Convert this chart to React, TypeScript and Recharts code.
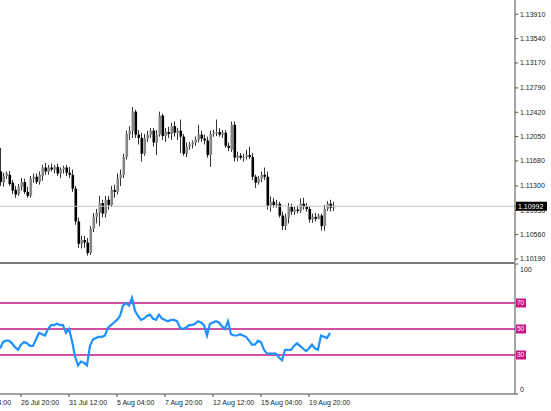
import React from 'react';
import { ComposedChart, LineChart, Line, Bar, XAxis, YAxis, ReferenceLine } from 'recharts';

const FIRST_INDEX = -7;

const opens = [
  1.1152, 1.1135, 1.1145, 1.1147, 1.1135, 1.1124, 1.1118,
  1.1129, 1.1136, 1.1121, 1.1115, 1.1141, 1.1144, 1.1136, 1.1145, 1.1158, 1.1152,
  1.1158, 1.1155, 1.1159, 1.1149, 1.1155, 1.1158, 1.1150, 1.1147, 1.1126, 1.1076,
  1.1042, 1.1048, 1.1044, 1.1028, 1.1065, 1.1083, 1.1089, 1.1104, 1.1088, 1.1109,
  1.1101, 1.1124, 1.1121, 1.1142, 1.1147, 1.1174, 1.1209, 1.1214, 1.1243, 1.1208,
  1.1203, 1.1179, 1.1202, 1.1208, 1.1214, 1.1196, 1.1208, 1.1237, 1.1206, 1.1212,
  1.1209, 1.1221, 1.1211, 1.1214, 1.1205, 1.1179, 1.1190, 1.1193, 1.1196, 1.1200,
  1.1208, 1.1202, 1.1199, 1.1177, 1.1209, 1.1211, 1.1212, 1.1208, 1.1211, 1.1191,
  1.1185, 1.1223, 1.1173, 1.1176, 1.1173, 1.1174, 1.1177, 1.1174, 1.1144, 1.1135,
  1.1141, 1.1147, 1.1144, 1.1100, 1.1106, 1.1101, 1.1103, 1.1085, 1.1069, 1.1082,
  1.1098, 1.1091, 1.1094, 1.1092, 1.1103, 1.1098, 1.1095, 1.1079, 1.1083, 1.1080,
  1.1085, 1.1069, 1.1095, 1.1103, 1.1097,
];
const highs = [
  1.1188, 1.1150, 1.1152, 1.1153, 1.1139, 1.1130, 1.1133,
  1.1142, 1.1141, 1.1129, 1.1145, 1.1149, 1.1149, 1.1152, 1.1162, 1.1165, 1.1162,
  1.1164, 1.1162, 1.1164, 1.1158, 1.1161, 1.1162, 1.1159, 1.1155, 1.1130, 1.1082,
  1.1054, 1.1054, 1.1051, 1.1069, 1.1089, 1.1095, 1.1115, 1.1109, 1.1115, 1.1115,
  1.1130, 1.1132, 1.1149, 1.1155, 1.1179, 1.1214, 1.1221, 1.1250, 1.1246, 1.1215,
  1.1211, 1.1209, 1.1214, 1.1218, 1.1218, 1.1215, 1.1243, 1.1240, 1.1218, 1.1220,
  1.1226, 1.1228, 1.1218, 1.1231, 1.1209, 1.1196, 1.1197, 1.1199, 1.1205, 1.1223,
  1.1214, 1.1208, 1.1205, 1.1214, 1.1215, 1.1231, 1.1218, 1.1215, 1.1215, 1.1196,
  1.1228, 1.1228, 1.1182, 1.1180, 1.1179, 1.1185, 1.1190, 1.1180, 1.1147, 1.1145,
  1.1152, 1.1158, 1.1152, 1.1114, 1.1112, 1.1109, 1.1106, 1.1091, 1.1088, 1.1104,
  1.1103, 1.1098, 1.1100, 1.1111, 1.1112, 1.1104, 1.1100, 1.1088, 1.1089, 1.1088,
  1.1088, 1.1101, 1.1107, 1.1109, 1.1106,
];
const lows = [
  1.1130, 1.1129, 1.1141, 1.1130, 1.1118, 1.1112, 1.1115,
  1.1123, 1.1118, 1.1112, 1.1112, 1.1135, 1.1133, 1.1132, 1.1138, 1.1147, 1.1147,
  1.1152, 1.1149, 1.1145, 1.1142, 1.1149, 1.1145, 1.1142, 1.1121, 1.1071, 1.1036,
  1.1035, 1.1036, 1.1024, 1.1025, 1.1060, 1.1073, 1.1069, 1.1082, 1.1082, 1.1094,
  1.1098, 1.1112, 1.1117, 1.1130, 1.1142, 1.1170, 1.1200, 1.1203, 1.1203, 1.1193,
  1.1167, 1.1176, 1.1197, 1.1203, 1.1190, 1.1177, 1.1205, 1.1200, 1.1197, 1.1203,
  1.1200, 1.1205, 1.1200, 1.1180, 1.1176, 1.1174, 1.1185, 1.1187, 1.1191, 1.1196,
  1.1197, 1.1193, 1.1173, 1.1159, 1.1205, 1.1206, 1.1205, 1.1203, 1.1188, 1.1183,
  1.1182, 1.1167, 1.1168, 1.1170, 1.1167, 1.1170, 1.1171, 1.1139, 1.1127, 1.1132,
  1.1136, 1.1139, 1.1094, 1.1091, 1.1097, 1.1097, 1.1082, 1.1063, 1.1063, 1.1073,
  1.1086, 1.1086, 1.1088, 1.1089, 1.1094, 1.1091, 1.1074, 1.1074, 1.1076, 1.1079,
  1.1062, 1.1062, 1.1092, 1.1091, 1.1092,
];
const closes = [
  1.1136, 1.1145, 1.1149, 1.1133, 1.1123, 1.1117, 1.1129,
  1.1136, 1.1121, 1.1115, 1.1141, 1.1144, 1.1136, 1.1147, 1.1158, 1.1152, 1.1158,
  1.1155, 1.1159, 1.1149, 1.1155, 1.1158, 1.1150, 1.1147, 1.1126, 1.1076, 1.1042,
  1.1048, 1.1044, 1.1028, 1.1065, 1.1083, 1.1089, 1.1104, 1.1088, 1.1109, 1.1101,
  1.1124, 1.1121, 1.1142, 1.1147, 1.1174, 1.1209, 1.1214, 1.1243, 1.1208, 1.1203,
  1.1179, 1.1202, 1.1208, 1.1214, 1.1196, 1.1208, 1.1237, 1.1206, 1.1212, 1.1209,
  1.1221, 1.1211, 1.1214, 1.1205, 1.1179, 1.1190, 1.1193, 1.1196, 1.1200, 1.1208,
  1.1202, 1.1199, 1.1177, 1.1209, 1.1211, 1.1212, 1.1208, 1.1211, 1.1191, 1.1188,
  1.1223, 1.1173, 1.1176, 1.1173, 1.1174, 1.1177, 1.1174, 1.1144, 1.1135, 1.1141,
  1.1147, 1.1144, 1.1100, 1.1106, 1.1101, 1.1103, 1.1085, 1.1069, 1.1082, 1.1098,
  1.1091, 1.1094, 1.1092, 1.1103, 1.1098, 1.1095, 1.1079, 1.1083, 1.1080, 1.1085,
  1.1069, 1.1095, 1.1103, 1.1097, 1.1099,
];
const rsiValues = [
  35, 40, 41, 41, 39, 36, 34,
  38, 40, 39, 37, 37, 42, 47, 46, 45, 50, 53, 53, 54, 53, 53, 47, 50,
  41, 29, 22, 25, 24, 22, 37, 42, 43, 44, 44, 45, 51, 53, 55, 57,
  60, 68, 70, 68, 74, 64, 60, 57, 58, 60, 61, 58, 57, 61, 58, 57,
  56, 57, 57, 56, 51, 50, 51, 53, 53, 54, 56, 55, 53, 45, 54, 55,
  56, 55, 52, 50, 56, 46, 45, 45, 46, 45, 44, 41, 38, 38, 41, 40,
  34, 31, 31, 31, 31, 28, 26, 34, 34, 34, 37, 39, 37, 35, 33, 35,
  38, 35, 34, 45, 44, 43, 47,
];

const priceTicks = [1.1019, 1.1056, 1.1093, 1.113, 1.1168, 1.1205, 1.1242, 1.1279, 1.1317, 1.1354, 1.1391];
const priceTickLabels = ['1.10190', '1.10560', '1.10930', '1.11300', '1.11680', '1.12050', '1.12420', '1.12790', '1.13170', '1.13540', '1.13910'];
const bidPrice = 1.10992;
const bidLabel = '1.10992';
const priceDomain = [1.10144, 1.14127];

const timeTickIndex = [-16, 0, 16, 32, 48, 64, 80, 96];
const timeTickLabels = ['24 Jul 04:00', '26 Jul 20:00', '31 Jul 12:00', '5 Aug 04:00', '7 Aug 20:00', '12 Aug 12:00', '15 Aug 04:00', '19 Aug 20:00'];
const xDomain = [-7, 164.67];

const rsiLevels = [30, 50, 70];
const rsiAxisTicks = [0, 100];

const data = opens.map((o, k) => ({
  i: k + FIRST_INDEX,
  open: o,
  high: highs[k],
  low: lows[k],
  close: closes[k],
  range: [lows[k], highs[k]],
  rsi: rsiValues[k],
}));

const FONT = '"Liberation Sans", Arial, sans-serif';
const AXIS = '#4a4a4a';
const LEVEL = '#C71585';

const Candle = (props: any) => {
  const { x, y, width, height, payload } = props;
  if (x == null || y == null || !payload) return null;
  const top = Math.min(y, y + height);
  const bottom = Math.max(y, y + height);
  const { open, close, high, low } = payload;
  const span = high - low || 1e-9;
  const yOf = (p: number) => top + ((high - p) / span) * (bottom - top);
  const cx = Math.round(x + width / 2);
  const bull = close >= open;
  const bTop = yOf(Math.max(open, close));
  const bBot = yOf(Math.min(open, close));
  return (
    <g>
      <line x1={cx + 0.5} x2={cx + 0.5} y1={top} y2={bottom} stroke="#333" strokeWidth={1} />
      <rect x={cx - 0.5} y={bTop} width={2.6} height={Math.max(1, bBot - bTop)} fill={bull ? '#858585' : '#000'} />
    </g>
  );
};

const PriceTick = (props: any) => {
  const { x, y, payload } = props;
  const v = payload.value;
  if (v === bidPrice) {
    return (
      <g>
        <rect x={x - 4} y={y - 4.5} width={31} height={9} fill="#000" />
        <text x={x - 2} y={y} dy="0.35em" fontSize={7} fontFamily={FONT} fill="#fff">{bidLabel}</text>
      </g>
    );
  }
  const idx = priceTicks.indexOf(v);
  return (
    <text x={x} y={y} dy="0.35em" fontSize={7} fontFamily={FONT} fill="#222">{priceTickLabels[idx]}</text>
  );
};

const TimeTick = (props: any) => {
  const { x, y, payload } = props;
  const idx = timeTickIndex.indexOf(payload.value);
  return (
    <text x={x} y={y} dy={7} fontSize={7} fontFamily={FONT} fill="#222">{timeTickLabels[idx]}</text>
  );
};

const RsiTick = (props: any) => {
  const { x, y, payload } = props;
  return (
    <text x={x} y={y} dy={payload.value === 100 ? 7.5 : -2.5} fontSize={7} fontFamily={FONT} fill="#222">{String(payload.value)}</text>
  );
};

const LevelLabel = (props: any) => {
  const { viewBox, value } = props;
  if (!viewBox) return null;
  const x0 = viewBox.x + viewBox.width + 1;
  const yc = viewBox.y;
  return (
    <g>
      <rect x={x0} y={yc - 4.5} width={10} height={9} fill={LEVEL} />
      <text x={x0 + 1} y={yc} dy="0.35em" fontSize={6.5} fontFamily={FONT} fill="#fff">{String(value)}</text>
    </g>
  );
};

export default function App() {
  return (
    <div style={{ width: 551, height: 411, position: 'relative', background: '#fff', overflow: 'hidden' }}>
      <style>{'body{margin:0;}'}</style>
      <div style={{ position: 'absolute', left: 0, top: 0 }}>
        <ComposedChart width={551} height={262} data={data} margin={{ top: 0, right: 0, bottom: 0, left: 0 }}>
          <XAxis type="number" dataKey="i" domain={xDomain} hide allowDataOverflow />
          <YAxis
            orientation="right"
            width={36}
            domain={priceDomain}
            allowDataOverflow
            ticks={[...priceTicks, bidPrice]}
            interval={0}
            tick={<PriceTick />}
            tickSize={3}
            tickMargin={2}
            tickLine={{ stroke: AXIS }}
            axisLine={{ stroke: AXIS }}
          />
          <ReferenceLine y={bidPrice} stroke="#c4c4c4" strokeWidth={1} />
          <Bar dataKey="range" shape={<Candle />} barSize={3} isAnimationActive={false} />
        </ComposedChart>
      </div>
      <div style={{ position: 'absolute', left: 0, top: 262, width: 515, height: 2, background: '#7a7a7a' }} />
      <div style={{ position: 'absolute', left: 0, top: 262 }}>
        <LineChart width={551} height={149} data={data} margin={{ top: 2, right: 0, bottom: 0, left: 0 }}>
          <XAxis
            type="number"
            dataKey="i"
            domain={xDomain}
            allowDataOverflow
            ticks={timeTickIndex}
            interval={0}
            tick={<TimeTick />}
            tickSize={3}
            tickMargin={1}
            tickLine={{ stroke: AXIS }}
            axisLine={{ stroke: AXIS }}
            height={17}
          />
          <YAxis
            orientation="right"
            width={36}
            domain={[0, 100]}
            allowDataOverflow
            ticks={rsiAxisTicks}
            interval={0}
            tick={<RsiTick />}
            tickSize={3}
            tickMargin={2}
            tickLine={{ stroke: AXIS }}
            axisLine={{ stroke: AXIS }}
          />
          {rsiLevels.map((lv) => (
            <ReferenceLine key={lv} y={lv} stroke={LEVEL} strokeWidth={1.5} label={<LevelLabel value={lv} />} />
          ))}
          <Line dataKey="rsi" type="linear" stroke="#1E90FF" strokeWidth={2.2} dot={false} isAnimationActive={false} />
        </LineChart>
      </div>
    </div>
  );
}
